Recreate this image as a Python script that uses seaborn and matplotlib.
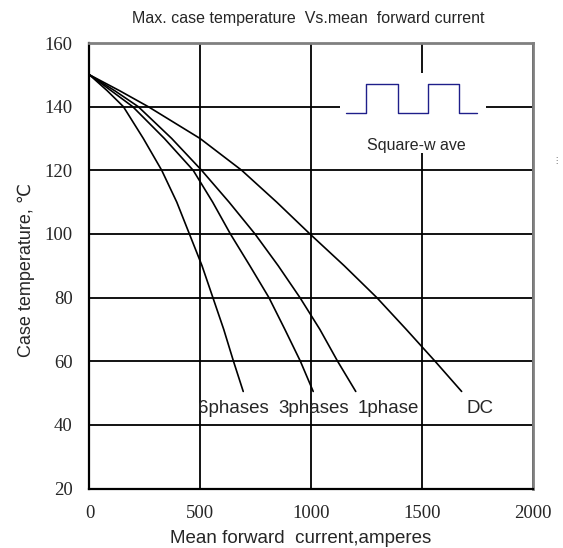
import matplotlib
matplotlib.use("Agg")
import matplotlib.pyplot as plt
from matplotlib import font_manager
from matplotlib.patches import Rectangle
import seaborn as sns
import pandas as pd

# --- values (current in A, case temp in C) ---
temps = [150, 145, 140, 130, 120, 110, 100, 90, 80, 70, 60, 50.5]
x_6phases = [0, 80, 153, 243, 326, 394, 451, 508, 557, 606, 650, 694]
x_3phases = [0, 98, 195, 338, 468, 556, 636, 724, 810, 882, 952, 1010]
x_1phase = [0, 114, 220, 371, 506, 630, 747, 852, 950, 1040, 1120, 1202]
x_dc = [0, 136, 265, 499, 687, 845, 995, 1150, 1297, 1430, 1560, 1680]

x_ticks = [0, 500, 1000, 1500, 2000]
y_ticks = [20, 40, 60, 80, 100, 120, 140, 160]

frames = []
for name, xs in [("6phases", x_6phases), ("3phases", x_3phases),
                 ("1phase", x_1phase), ("DC", x_dc)]:
    frames.append(pd.DataFrame({"current": xs, "temp": temps, "curve": name}))
df = pd.concat(frames, ignore_index=True)

sns.set_style("white")
plt.rcParams["font.family"] = ["Liberation Sans", "DejaVu Sans"]

fig = plt.figure(figsize=(5.63, 5.48), dpi=100)
ax = fig.add_axes([89.5 / 563, 1 - 488.5 / 548, 443 / 563, 445.5 / 548])

ax.set_axisbelow(True)
ax.grid(True, color="black", linewidth=1.3)

sns.lineplot(data=df, x="current", y="temp", hue="curve",
             palette=["black"] * 4, estimator=None, sort=False,
             linewidth=1.2, legend=False, ax=ax, zorder=3)

# square-wave sketch in the top right (white box hides the grid behind it)
ax.add_patch(Rectangle((1131, 125.4), 659, 25.2, facecolor="white",
                       edgecolor="none", zorder=2))
sq_x = [1158, 1247, 1247, 1391, 1391, 1527, 1527, 1667, 1667, 1751]
sq_y = [138.1, 138.1, 147.1, 147.1, 138.1, 138.1, 147.1, 147.1, 138.1, 138.1]
ax.plot(sq_x, sq_y, color="#1f1f8a", linewidth=1.0, zorder=3)
ax.text(1477, 127.8, "Square-w ave", ha="center", va="center",
        fontsize=11.5, zorder=4)

# curve names
for label, xpos in [("6phases", 490), ("3phases", 851), ("1phase", 1212), ("DC", 1704)]:
    ax.text(xpos, 45, label, ha="left", va="center", fontsize=13.5, zorder=4)

ax.set_xlim(0, 2000)
ax.set_ylim(20, 160)
ax.set_xticks(x_ticks)
ax.set_yticks(y_ticks)
ax.tick_params(length=0, pad=12, labelsize=13.5)
for lab in ax.get_xticklabels() + ax.get_yticklabels():
    lab.set_family("Liberation Serif")

for side in ["left", "bottom"]:
    ax.spines[side].set_color("black")
    ax.spines[side].set_linewidth(1.6)
for side in ["top", "right"]:
    ax.spines[side].set_color("#808080")
    ax.spines[side].set_linewidth(2)

ax.set_xlabel("Mean forward  current,amperes", fontsize=13.5)
ax.set_ylabel("Case temperature, ℃", fontsize=13)
ax.xaxis.set_label_coords(211.5 / 443, -0.093)
ax.yaxis.set_label_coords(-0.124, 0.49)

title = "Max. case temperature  Vs.mean  forward current"
names = {f.name for f in font_manager.fontManager.ttflist}
if "Liberation Sans Narrow" in names:
    fig.text(308.4 / 563, 1 - 18 / 548, title, ha="center", va="center",
             fontsize=13.5, family="Liberation Sans Narrow")
else:
    fig.text(308.4 / 563, 1 - 18 / 548, title, ha="center", va="center",
             fontsize=11.5)

fig.text(0.996, 1 - 160 / 548, "⋮", ha="right", va="center", fontsize=6,
         color="#666666", family="DejaVu Sans")

fig.savefig("out.png", dpi=100)
